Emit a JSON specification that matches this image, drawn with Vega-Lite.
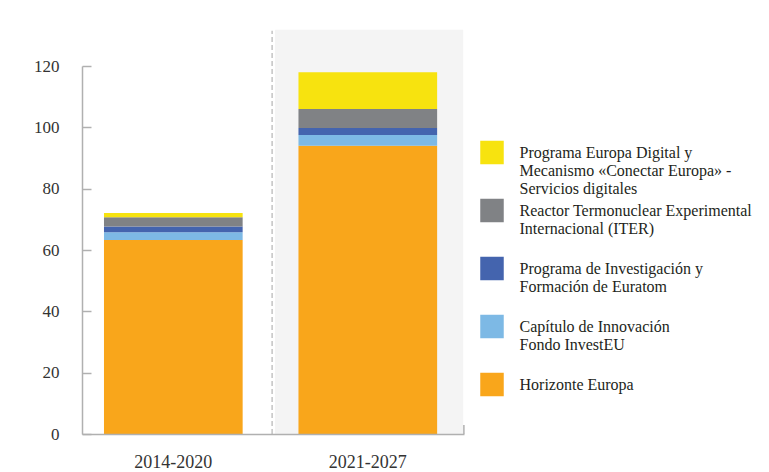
{
  "$schema": "https://vega.github.io/schema/vega-lite/v6.json",
  "width": 382,
  "height": 368,
  "autosize": {"type": "none"},
  "padding": {"left": 82, "top": 66, "right": 305, "bottom": 38},
  "background": "white",
  "config": {
    "view": {"stroke": null},
    "font": "Liberation Serif",
    "style": {"guide-label": {"lineHeight": 18}}
  },
  "datasets": {
    "fondos": [
      {"periodo": "2014-2020", "programa": "Horizonte Europa", "orden": 1, "valor": 63.3},
      {"periodo": "2014-2020", "programa": "Capítulo de Innovación Fondo InvestEU", "orden": 2, "valor": 2.5},
      {"periodo": "2014-2020", "programa": "Programa de Investigación y Formación de Euratom", "orden": 3, "valor": 1.9},
      {"periodo": "2014-2020", "programa": "Reactor Termonuclear Experimental Internacional (ITER)", "orden": 4, "valor": 3.0},
      {"periodo": "2014-2020", "programa": "Programa Europa Digital y Mecanismo «Conectar Europa» - Servicios digitales", "orden": 5, "valor": 1.4},
      {"periodo": "2021-2027", "programa": "Horizonte Europa", "orden": 1, "valor": 94.0},
      {"periodo": "2021-2027", "programa": "Capítulo de Innovación Fondo InvestEU", "orden": 2, "valor": 3.5},
      {"periodo": "2021-2027", "programa": "Programa de Investigación y Formación de Euratom", "orden": 3, "valor": 2.3},
      {"periodo": "2021-2027", "programa": "Reactor Termonuclear Experimental Internacional (ITER)", "orden": 4, "valor": 6.2},
      {"periodo": "2021-2027", "programa": "Programa Europa Digital y Mecanismo «Conectar Europa» - Servicios digitales", "orden": 5, "valor": 12.0}
    ],
    "fondo": [{"periodo": "2021-2027"}]
  },
  "layer": [
    {
      "data": {"name": "fondo"},
      "mark": {"type": "rect", "color": "#f4f4f4"},
      "encoding": {
        "x": {"field": "periodo", "type": "nominal", "bandPosition": -0.169, "title": null},
        "x2": {"field": "periodo", "bandPosition": 1.188},
        "y": {"datum": 0, "type": "quantitative"},
        "y2": {"datum": 131.8}
      }
    },
    {
      "data": {"name": "fondo"},
      "mark": {"type": "rule", "color": "#c4c4c4", "strokeDash": [5, 3], "strokeWidth": 1.5},
      "encoding": {
        "x": {"field": "periodo", "type": "nominal", "bandPosition": -0.19, "title": null},
        "y": {"datum": 0, "type": "quantitative"},
        "y2": {"datum": 131.5}
      }
    },
    {
      "data": {"name": "fondo"},
      "mark": {"type": "rule", "color": "#b0b0b0", "strokeWidth": 1.5},
      "encoding": {
        "x": {"field": "periodo", "type": "nominal", "bandPosition": 1.193, "title": null},
        "y": {"datum": 0, "type": "quantitative"},
        "y2": {"datum": 2.9}
      }
    },
    {
      "data": {"name": "fondos"},
      "mark": {"type": "bar"},
      "encoding": {
        "x": {
          "field": "periodo",
          "type": "nominal",
          "title": null,
          "scale": {"paddingInner": 0.287, "paddingOuter": 0.1256, "align": 0.45},
          "axis": {
            "labelAngle": 0,
            "labelAlign": "center",
            "bandPosition": 0.5,
            "ticks": false,
            "domainColor": "#b0b0b0",
            "domainWidth": 1.5,
            "labelFontSize": 18,
            "labelColor": "#333333",
            "labelPadding": 28
          }
        },
        "y": {
          "field": "valor",
          "type": "quantitative",
          "stack": true,
          "title": null,
          "scale": {"domain": [0, 120]},
          "axis": {
            "values": [0, 20, 40, 60, 80, 100, 120],
            "grid": false,
            "tickSize": -9,
            "tickColor": "#b0b0b0",
            "tickWidth": 1.5,
            "domainColor": "#b0b0b0",
            "domainWidth": 1.5,
            "labelFontSize": 17,
            "labelColor": "#333333",
            "labelPadding": 32
          }
        },
        "color": {
          "field": "programa",
          "type": "nominal",
          "scale": {
            "domain": [
              "Programa Europa Digital y Mecanismo «Conectar Europa» - Servicios digitales",
              "Reactor Termonuclear Experimental Internacional (ITER)",
              "Programa de Investigación y Formación de Euratom",
              "Capítulo de Innovación Fondo InvestEU",
              "Horizonte Europa"
            ],
            "range": ["#F7E30F", "#808285", "#4464AE", "#7DB9E5", "#F9A61B"]
          },
          "legend": {
            "title": null,
            "orient": "none",
            "legendX": 398,
            "legendY": 74.5,
            "padding": 0,
            "symbolType": "square",
            "symbolSize": 552,
            "symbolStrokeWidth": 0,
            "symbolOpacity": 1,
            "labelFont": "Liberation Serif",
            "labelFontSize": 16,
            "labelColor": "#231f20",
            "labelLimit": 300,
            "labelOffset": 15.5,
            "rowPadding": 2,
            "gridAlign": "all",
            "labelExpr": "datum.value == 'Programa Europa Digital y Mecanismo «Conectar Europa» - Servicios digitales' ? ['Programa Europa Digital y', 'Mecanismo «Conectar Europa» -', 'Servicios digitales'] : datum.value == 'Reactor Termonuclear Experimental Internacional (ITER)' ? ['Reactor Termonuclear Experimental', 'Internacional (ITER)'] : datum.value == 'Programa de Investigación y Formación de Euratom' ? ['Programa de Investigación y', 'Formación de Euratom'] : datum.value == 'Capítulo de Innovación Fondo InvestEU' ? ['Capítulo de Innovación', 'Fondo InvestEU'] : datum.value"
          }
        },
        "order": {"field": "orden", "type": "quantitative"}
      }
    }
  ]
}
